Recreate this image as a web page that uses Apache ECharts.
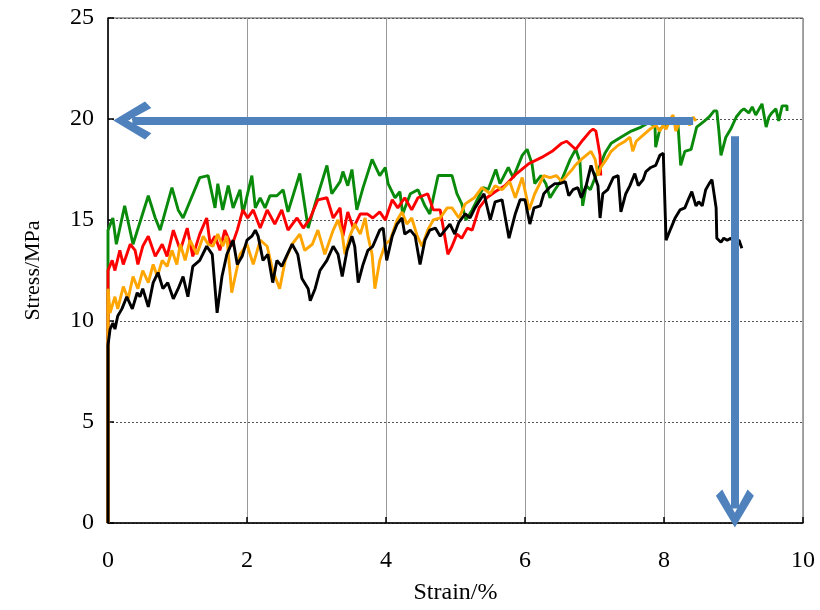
<!DOCTYPE html>
<html>
<head>
<meta charset="utf-8">
<script src="https://cdn.jsdelivr.net/npm/echarts@6/dist/echarts.min.js"></script>
<style>
  html, body { margin: 0; padding: 0; background: #fff; }
  #chart { width: 820px; height: 610px; }
</style>
</head>
<body>
<div id="chart"></div>
<script>
// Stress–strain curves, [strain %, stress MPa]
const greenCurve = [
  [0,0],[0,11.5],[0,14.5],[0.07,15.1],[0.12,13.8],[0.24,15.7],[0.36,13.8],[0.58,16.2],[0.68,15.1],[0.75,14.5],
  [0.92,16.6],[1.01,15.5],[1.08,15.1],[1.32,17.1],[1.44,17.2],[1.54,15.6],[1.58,16.8],[1.65,15.5],[1.73,16.7],
  [1.80,15.6],[1.90,16.5],[1.94,15.3],[2.07,17.2],[2.12,15.6],[2.19,16.1],[2.26,15.6],[2.33,16.2],[2.43,16.2],
  [2.52,16.5],[2.59,15.4],[2.76,17.3],[2.88,14.6],[2.98,15.8],[3.15,17.7],[3.22,16.3],[3.34,16.9],[3.38,17.4],
  [3.45,16.7],[3.51,17.5],[3.58,15.5],[3.67,16.6],[3.80,18.0],[3.91,17.2],[3.99,17.6],[4.03,16.8],[4.13,16.1],
  [4.20,16.4],[4.24,15.3],[4.35,16.3],[4.46,16.5],[4.56,15.7],[4.63,15.3],[4.75,17.2],[4.85,17.2],[4.95,17.2],
  [5.02,16.3],[5.09,15.8],[5.15,15.0],[5.24,15.5],[5.40,16.6],[5.47,16.5],[5.58,17.5],[5.64,16.8],[5.76,17.6],
  [5.83,17.1],[5.96,18.2],[6.03,18.5],[6.10,17.8],[6.14,16.8],[6.23,17.2],[6.30,16.8],[6.36,16.1],[6.43,16.5],
  [6.53,17.0],[6.65,18.0],[6.73,18.5],[6.79,17.9],[6.83,15.7],[6.88,16.7],[6.94,16.5],[7.02,17.2],[7.15,18.3],
  [7.24,18.8],[7.38,19.1],[7.53,19.4],[7.67,19.6],[7.77,19.8],[7.87,19.7],[7.88,18.6],[7.94,19.5],[8.06,19.8],
  [8.16,20.0],[8.20,19.8],[8.24,17.7],[8.30,18.4],[8.39,18.5],[8.47,19.6],[8.58,19.9],[8.65,20.1],[8.72,20.4],
  [8.76,20.4],[8.79,19.4],[8.82,18.2],[8.89,19.1],[8.96,19.5],[9.04,20.1],[9.11,20.4],[9.15,20.5],[9.22,20.3],
  [9.27,20.6],[9.32,20.2],[9.41,20.75],[9.47,19.6],[9.51,20.1],[9.55,20.3],[9.61,20.5],[9.65,19.9],[9.70,20.65],
  [9.77,20.65],[9.77,20.4]
];

const redCurve = [
  [0,0],[0,2.2],[0,12.5],[0.06,13.0],[0.10,12.5],[0.17,13.5],[0.22,12.8],[0.32,13.8],[0.39,13.5],[0.43,12.8],
  [0.50,13.7],[0.58,14.2],[0.68,13.2],[0.78,13.8],[0.85,13.2],[0.94,14.5],[1.04,13.5],[1.14,14.6],[1.22,13.2],
  [1.32,14.3],[1.42,15.1],[1.47,13.8],[1.54,14.2],[1.61,13.5],[1.68,14.5],[1.78,13.7],[1.86,14.5],[1.94,15.5],
  [2.01,15.1],[2.09,15.5],[2.19,14.6],[2.29,15.5],[2.40,14.8],[2.50,15.5],[2.59,14.5],[2.72,15.1],[2.81,14.6],
  [2.91,15.1],[3.02,16.0],[3.15,16.1],[3.24,15.1],[3.34,15.6],[3.38,14.2],[3.45,15.4],[3.53,14.6],[3.63,15.3],
  [3.73,15.3],[3.81,15.1],[3.91,15.4],[3.99,15.0],[4.09,16.0],[4.17,15.6],[4.27,16.1],[4.37,15.5],[4.46,16.1],
  [4.60,16.3],[4.68,15.5],[4.78,15.5],[4.89,13.3],[4.95,13.7],[5.02,14.3],[5.09,14.1],[5.17,14.6],[5.24,14.5],
  [5.34,15.6],[5.45,16.1],[5.57,16.4],[5.71,16.7],[5.88,17.3],[6.06,17.8],[6.24,18.1],[6.39,18.4],[6.53,18.8],
  [6.60,18.9],[6.68,18.65],[6.73,18.5],[6.83,18.95],[6.94,19.4],[6.98,19.5],[7.02,19.4],[7.08,18.2],[7.09,17.2]
];

const orangeCurve = [
  [0,0],[0,5.0],[0,11.6],[0.03,10.4],[0.10,11.2],[0.14,10.6],[0.22,11.7],[0.29,11.1],[0.36,12.2],[0.43,11.6],
  [0.50,12.5],[0.58,11.9],[0.65,12.8],[0.71,12.2],[0.78,13.0],[0.85,12.7],[0.92,13.5],[0.99,12.8],[1.04,13.8],
  [1.11,13.0],[1.18,14.0],[1.28,13.3],[1.37,14.2],[1.44,13.8],[1.51,13.7],[1.58,14.3],[1.65,13.7],[1.71,14.2],
  [1.78,11.4],[1.83,12.2],[1.90,13.3],[2.00,13.8],[2.09,12.8],[2.19,14.0],[2.29,13.7],[2.37,12.5],[2.47,11.6],
  [2.55,13.0],[2.65,13.8],[2.76,14.3],[2.83,13.5],[2.94,13.8],[3.02,14.5],[3.12,13.3],[3.24,14.5],[3.31,15.0],
  [3.37,14.3],[3.41,13.3],[3.48,14.2],[3.55,14.8],[3.63,14.3],[3.70,15.1],[3.74,14.2],[3.80,13.3],[3.84,11.6],
  [3.91,13.0],[3.99,13.8],[4.06,14.0],[4.16,15.0],[4.23,15.4],[4.30,14.8],[4.37,15.1],[4.45,14.2],[4.52,13.7],
  [4.60,14.5],[4.68,15.0],[4.78,15.1],[4.88,15.6],[4.95,15.6],[5.05,15.1],[5.14,15.8],[5.27,16.1],[5.38,16.6],
  [5.50,16.3],[5.57,16.7],[5.67,16.5],[5.78,16.9],[5.86,16.1],[5.96,17.1],[6.06,15.5],[6.14,16.3],[6.27,17.2],
  [6.36,17.1],[6.45,17.2],[6.53,16.9],[6.60,17.2],[6.68,17.5],[6.72,17.7],[6.81,18.0],[6.88,18.2],[6.95,18.4],
  [7.01,18.0],[7.05,17.2],[7.09,17.6],[7.17,18.0],[7.24,18.4],[7.34,18.7],[7.44,18.9],[7.51,19.1],[7.55,18.4],
  [7.60,18.9],[7.70,19.2],[7.80,19.5],[7.88,19.7],[7.94,19.4],[7.99,19.7],[8.03,19.5],[8.09,20.0],[8.13,20.2],
  [8.17,19.4],[8.23,19.9],[8.30,20.0],[8.37,19.7],[8.42,20.1],[8.46,19.9]
];

const blackCurve = [
  [0,0],[0,4.4],[0,8.8],[0.03,9.6],[0.07,9.9],[0.10,9.6],[0.14,10.25],[0.20,10.6],[0.27,11.2],[0.35,10.6],
  [0.42,11.4],[0.46,11.2],[0.50,11.6],[0.58,10.7],[0.65,11.9],[0.72,12.4],[0.79,11.6],[0.86,11.9],[0.94,11.1],
  [1.01,11.6],[1.08,12.2],[1.15,11.2],[1.22,12.7],[1.32,13.0],[1.42,13.7],[1.50,13.3],[1.57,10.4],[1.64,12.2],
  [1.71,13.3],[1.80,14.0],[1.86,12.8],[1.93,13.2],[2.00,14.0],[2.07,14.2],[2.12,14.5],[2.16,14.2],[2.23,13.0],
  [2.30,13.3],[2.37,11.9],[2.43,13.0],[2.50,12.7],[2.58,13.3],[2.65,13.8],[2.73,13.3],[2.79,12.1],[2.88,11.6],
  [2.91,11.0],[2.98,11.6],[3.05,12.5],[3.15,13.0],[3.24,13.7],[3.31,13.3],[3.37,12.2],[3.44,13.5],[3.51,14.2],
  [3.55,13.7],[3.60,11.9],[3.67,12.8],[3.74,13.5],[3.81,13.7],[3.91,14.5],[3.96,14.6],[4.01,13.0],[4.09,14.2],
  [4.16,14.8],[4.23,15.1],[4.27,14.3],[4.35,14.5],[4.42,14.2],[4.49,12.8],[4.56,14.0],[4.63,14.5],[4.71,14.6],
  [4.78,14.2],[4.85,14.5],[4.92,14.8],[4.99,14.3],[5.05,14.9],[5.14,15.3],[5.21,15.1],[5.28,15.6],[5.41,16.3],
  [5.50,15.0],[5.57,15.9],[5.67,16.0],[5.77,14.1],[5.86,15.3],[5.93,16.0],[6.00,16.0],[6.07,14.8],[6.13,15.6],
  [6.22,15.7],[6.27,16.3],[6.35,16.6],[6.43,16.8],[6.50,16.8],[6.58,16.9],[6.63,16.2],[6.69,16.5],[6.76,16.6],
  [6.81,16.1],[6.88,16.7],[6.95,17.7],[7.01,17.1],[7.05,16.7],[7.08,15.1],[7.12,16.3],[7.19,16.5],[7.27,17.1],
  [7.34,17.2],[7.38,15.4],[7.45,16.3],[7.51,16.7],[7.58,17.3],[7.63,16.7],[7.70,17.0],[7.74,17.4],[7.81,17.6],
  [7.88,17.7],[7.94,18.2],[7.99,18.3],[8.03,14.0],[8.10,14.6],[8.16,15.1],[8.23,15.5],[8.30,15.6],[8.36,16.1],
  [8.40,16.4],[8.46,15.7],[8.50,15.9],[8.55,15.7],[8.60,16.5],[8.65,16.8],[8.69,17.0],[8.75,15.6],[8.76,14.1],
  [8.82,13.9],[8.86,14.1],[8.91,14.0],[8.96,14.1],[9.01,13.9],[9.08,14.0],[9.12,13.6]
];

// Guide arrows: shaft start and end, [strain, stress]
const arrowToStress = [[8.42, 19.92], [0.35, 19.92]];
const arrowToStrain = [[9.02, 19.15], [9.02, 0.72]];

const xTicks = [0, 2, 4, 6, 8, 10];
const yTicks = [0, 5, 10, 15, 20, 25];

const serif = '"Liberation Serif", "Times New Roman", serif';
// open chevron arrowhead, pointing up in its own frame
const chevron = 'path://M18 0 L36 30 L30 36 L18 14 L6 36 L0 30 Z';

function curve(data, color) {
  return {
    type: 'line',
    data: data,
    showSymbol: false,
    symbol: 'none',
    lineStyle: { color: color, width: 2.9 },
    itemStyle: { color: color },
    silent: true,
    animation: false
  };
}

const chart = echarts.init(document.getElementById('chart'), null, { renderer: 'canvas' });
chart.setOption({
  backgroundColor: '#ffffff',
  animation: false,
  grid: {
    left: 108, right: 17, top: 18, bottom: 80,
    show: true, borderColor: '#555', borderWidth: 1, backgroundColor: 'transparent'
  },
  xAxis: {
    type: 'value',
    min: xTicks[0], max: xTicks[xTicks.length - 1], interval: xTicks[1] - xTicks[0],
    name: 'Strain/%',
    nameLocation: 'middle',
    nameGap: 58,
    nameTextStyle: { fontFamily: serif, fontSize: 24, color: '#000' },
    axisLine: { show: true, lineStyle: { color: '#000', width: 1.5 } },
    axisTick: { show: true, inside: true, length: 6, lineStyle: { color: '#000', width: 1.5 } },
    axisLabel: { fontFamily: serif, fontSize: 24, color: '#000', margin: 26 },
    splitLine: { show: true, lineStyle: { color: '#999', width: 1, type: 'solid' } }
  },
  yAxis: {
    type: 'value',
    min: yTicks[0], max: yTicks[yTicks.length - 1], interval: yTicks[1] - yTicks[0],
    name: 'Stress/MPa',
    nameLocation: 'middle',
    nameGap: 64,
    nameRotate: 90,
    nameTextStyle: { fontFamily: serif, fontSize: 22, color: '#000' },
    axisLine: { show: true, lineStyle: { color: '#000', width: 1.5 } },
    axisTick: { show: true, inside: true, length: 6, lineStyle: { color: '#000', width: 1.5 } },
    axisLabel: { fontFamily: serif, fontSize: 24, color: '#000', margin: 14 },
    splitLine: { show: true, lineStyle: { color: '#555', width: 1, type: [2, 2] } }
  },
  series: [
    curve(greenCurve, '#0a8a0a'),
    curve(redCurve, '#ff0000'),
    curve(orangeCurve, '#ffa500'),
    curve(blackCurve, '#000000'),
    {
      type: 'line',
      data: [],
      silent: true,
      z: 5,
      markLine: {
        silent: true,
        animation: false,
        symbol: ['none', chevron],
        symbolSize: [38, 38],
        label: { show: false },
        lineStyle: { color: '#4f81bd', width: 8, type: 'solid' },
        emphasis: { disabled: true },
        data: [
          [{ coord: arrowToStress[0] }, { coord: arrowToStress[1] }],
          [{ coord: arrowToStrain[0] }, { coord: arrowToStrain[1] }]
        ]
      }
    }
  ]
});
</script>
</body>
</html>
